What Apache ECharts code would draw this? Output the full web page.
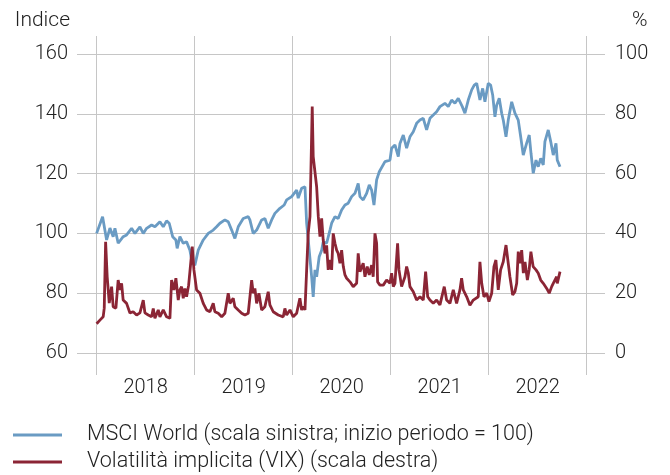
<!DOCTYPE html>
<html><head><meta charset="utf-8">
<script src="https://cdn.jsdelivr.net/npm/echarts@6/dist/echarts.min.js"></script>
<style>html,body{margin:0;padding:0;background:#fff}#c{width:670px;height:475px}</style>
</head><body><div id="c"></div>
<script>
// Time in decimal years
const msciTime = [2018.000,2018.061,2018.102,2018.136,2018.169,2018.187,2018.220,2018.271,2018.306,2018.357,2018.391,2018.442,2018.476,2018.510,2018.561,2018.595,2018.646,2018.680,2018.714,2018.741,2018.776,2018.809,2018.822,2018.850,2018.884,2018.918,2018.952,2018.976,
2019.003,2019.037,2019.088,2019.139,2019.190,2019.224,2019.258,2019.309,2019.343,2019.378,2019.411,2019.445,2019.496,2019.547,2019.564,2019.598,2019.633,2019.649,2019.684,2019.717,2019.751,2019.786,2019.819,2019.870,2019.914,2019.939,2019.990,
2020.041,2020.057,2020.092,2020.108,2020.126,2020.143,2020.169,2020.194,2020.210,2020.228,2020.245,2020.271,2020.296,2020.312,2020.347,2020.381,2020.398,2020.432,2020.465,2020.500,2020.534,2020.567,2020.602,2020.636,2020.669,2020.687,2020.720,2020.755,2020.782,2020.806,2020.830,2020.857,2020.884,2020.942,2020.993,
2021.010,2021.044,2021.078,2021.095,2021.129,2021.163,2021.197,2021.231,2021.265,2021.299,2021.333,2021.367,2021.401,2021.435,2021.469,2021.503,2021.554,2021.588,2021.622,2021.656,2021.690,2021.731,2021.758,2021.792,2021.827,2021.853,2021.878,2021.911,2021.939,2021.962,2021.996,
2022.020,2022.041,2022.064,2022.082,2022.108,2022.133,2022.149,2022.177,2022.200,2022.235,2022.268,2022.302,2022.327,2022.353,2022.387,2022.414,2022.432,2022.455,2022.483,2022.506,2022.531,2022.557,2022.574,2022.608,2022.633,2022.659,2022.687,2022.700,2022.728];
const msciIndex = [100,105.6,97.8,101.8,98.9,101.7,96.7,98.9,99.5,101.7,100,102.2,100,101.7,102.8,102.2,103.9,102.2,104.2,103.4,98.9,97.8,95,98.9,96.7,97.2,94.4,90,
89.4,94.4,97.8,100,101.1,102.2,103.4,104.5,103.9,101.1,98.3,102.2,105,105.6,104.5,100,101.1,102.2,104.5,105,101.7,104.5,106.7,108.4,109.5,111.2,112.3,
114.5,111.8,115.1,115.6,115.6,103.4,94.4,85.5,78.8,87.8,85.5,92.2,94.4,97.2,96.7,101.1,103.4,105.6,105,107.8,109.5,110.1,112.3,113.4,116.7,112.3,111.2,113.4,116.2,114.5,109.5,117.9,120.6,124,124.5,
128.5,129.6,125.7,130.1,132.9,128.5,132.3,134,136.8,137.9,138.5,134.6,138.5,139.6,140.7,142.4,143.5,142.4,144.6,143.5,145.2,142.4,140.2,144.6,148,149.6,150.2,144.6,148.5,144,150.2,
149.6,146.3,139,142.9,145.2,140.2,137.9,132.3,137.9,144,140.2,137.9,132.3,126.2,130.1,132.9,126.8,120.1,124.5,122.3,125.1,122.9,130.7,134.6,130.7,126.2,130.1,124.5,122.3];

const vixTime = [2018.000,2018.034,2018.067,2018.078,2018.092,2018.108,2018.129,2018.153,2018.169,2018.197,2018.220,2018.238,2018.255,2018.271,2018.306,2018.340,2018.373,2018.408,2018.442,2018.476,2018.493,2018.527,2018.561,2018.578,2018.595,2018.629,2018.646,2018.680,2018.714,2018.748,2018.765,2018.789,2018.809,2018.833,2018.850,2018.867,2018.884,2018.901,2018.918,2018.939,2018.952,2018.976,2018.993,
2019.020,2019.054,2019.088,2019.122,2019.156,2019.190,2019.207,2019.241,2019.276,2019.309,2019.343,2019.360,2019.394,2019.411,2019.445,2019.480,2019.513,2019.547,2019.582,2019.598,2019.615,2019.633,2019.656,2019.684,2019.717,2019.751,2019.768,2019.802,2019.853,2019.904,2019.921,2019.939,2019.973,
2020.006,2020.041,2020.074,2020.092,2020.108,2020.126,2020.143,2020.159,2020.177,2020.200,2020.210,2020.228,2020.245,2020.262,2020.279,2020.296,2020.312,2020.330,2020.347,2020.363,2020.381,2020.398,2020.414,2020.432,2020.449,2020.465,2020.483,2020.500,2020.517,2020.534,2020.551,2020.585,2020.618,2020.653,2020.669,2020.687,2020.720,2020.738,2020.761,2020.782,2020.806,2020.822,2020.840,2020.857,2020.867,2020.891,2020.925,2020.959,2020.993,
2021.010,2021.027,2021.044,2021.071,2021.085,2021.112,2021.146,2021.163,2021.180,2021.197,2021.231,2021.265,2021.299,2021.333,2021.357,2021.378,2021.401,2021.435,2021.469,2021.503,2021.547,2021.571,2021.605,2021.639,2021.673,2021.707,2021.724,2021.741,2021.776,2021.809,2021.843,2021.860,2021.894,2021.911,2021.929,2021.952,2021.980,
2022.003,2022.031,2022.054,2022.074,2022.098,2022.122,2022.149,2022.177,2022.200,2022.217,2022.245,2022.268,2022.286,2022.302,2022.320,2022.337,2022.354,2022.371,2022.395,2022.413,2022.431,2022.454,2022.483,2022.506,2022.531,2022.557,2022.592,2022.618,2022.643,2022.659,2022.677,2022.694,2022.700,2022.728];
const vixLevel = [9.8,11,12.1,15,37.2,25.5,16.7,22.2,15.5,15,24.4,21.1,23.3,17.7,16.6,13.4,13.8,12.7,13.4,17.7,13.4,12.7,12.1,14.9,11.6,14.4,12.1,14.4,12.1,11.6,24.4,21.1,25,17.7,21.1,22.2,18.3,21.6,18.8,22.7,23.3,35.6,27.8,
21.1,20,16.6,14.4,13.8,16.6,13.8,13.3,12.1,13.3,20,16.6,18.3,15.5,14.4,13.3,12.7,13.3,24.4,20,21.6,16.6,20,14.4,15.5,20.5,16.1,13.8,12.7,12.1,14.9,12.7,14.4,
12.1,13.3,18.3,14.4,15.5,14.4,27.8,40,45.6,82.4,65.7,65.7,55.6,45.6,38.9,45,37.8,33.3,36,27.8,31.1,27.8,40,36.7,34.4,33.3,30,34.4,28.9,26.1,25,23.8,22.2,23.3,33.3,27.2,30,25.5,28.9,26.1,29.4,25.5,40,36.7,23.8,22.7,22.7,24.4,23.3,
26.7,22.2,23.3,36.7,27.8,22.2,25.5,28.9,26.7,22.2,20.5,17.7,18.8,17.7,27.2,18.8,17.7,16.6,17.7,16.1,22.2,17.7,16.6,21.1,16.6,21.1,25,21.1,18.8,16,17.7,17.7,18.8,30.5,23.3,18.8,20,
17.2,20,28.9,31.1,21.1,27.8,30.5,36.1,30,25.5,19.4,20.5,23.3,33.9,30,34.4,26.7,30.5,24.4,27.8,33.9,28.9,27.8,26.7,24.4,23.3,21.6,20,22.2,23.3,23.3,25.5,23.3,27.2];

const yearBounds = [2018, 2019, 2020, 2021, 2022, 2023];
const yearLabelPos = [2018.5, 2019.5, 2020.5, 2021.5, 2022.5];
const seriesNames = ['MSCI World (scala sinistra; inizio periodo = 100)', 'Volatilità implicita (VIX) (scala destra)'];

const FONT = 'Roboto';
const TXT = '#222222';
const GRID = '#c6c6c6';
const xMin = 2017.8, xMax = 2023.187;

function legendFor(name, top) {
  return {
    orient: 'horizontal', left: 13, top: top, padding: 0, itemWidth: 49, itemHeight: 3,
    icon: 'rect', data: [name], selectedMode: false,
    textStyle: {fontFamily: FONT, fontWeight: 300, fontSize: 21.5, color: TXT, lineHeight: 22, padding: [0, 0, 0, 20]}
  };
}

const chart = echarts.init(document.getElementById('c'), null, {renderer: 'canvas'});
chart.setOption({
  animation: false,
  backgroundColor: '#ffffff',
  textStyle: {fontFamily: FONT, fontWeight: 300, color: TXT},
  grid: {left: 77, right: 65, top: 54, bottom: 122, containLabel: false},
  legend: [legendFor(seriesNames[0], 424), legendFor(seriesNames[1], 451)],
  xAxis: [
    {type: 'value', min: xMin, max: xMax, position: 'bottom',
      axisLine: {show: false}, axisTick: {show: false}, splitLine: {show: false},
      axisLabel: {customValues: yearLabelPos, formatter: v => String(Math.floor(v)), margin: 25,
        fontFamily: FONT, fontWeight: 300, fontSize: 20, color: TXT}},
    {type: 'value', min: xMin, max: xMax, position: 'top', offset: 18,
      axisLine: {show: false}, axisLabel: {show: false}, splitLine: {show: false},
      axisTick: {show: true, customValues: yearBounds, inside: true, length: 339, lineStyle: {color: GRID, width: 1}}}
  ],
  yAxis: [
    {type: 'value', min: 60, max: 160, interval: 20, position: 'left',
      name: 'Indice', nameLocation: 'end', nameGap: 23,
      nameTextStyle: {fontFamily: FONT, fontWeight: 300, fontSize: 21, color: TXT, align: 'right', padding: [0, 7, 0, 0]},
      axisLine: {show: false}, axisTick: {show: false},
      axisLabel: {margin: 9, fontFamily: FONT, fontWeight: 300, fontSize: 20, color: TXT},
      splitLine: {show: true, lineStyle: {color: GRID, width: 1}}},
    {type: 'value', min: 0, max: 100, interval: 20, position: 'right',
      name: '%', nameLocation: 'end', nameGap: 23,
      nameTextStyle: {fontFamily: FONT, fontWeight: 300, fontSize: 21, color: TXT, align: 'left', padding: [0, 0, 0, 27]},
      axisLine: {show: false}, axisTick: {show: false},
      axisLabel: {margin: 10, fontFamily: FONT, fontWeight: 300, fontSize: 20, color: TXT},
      splitLine: {show: false}}
  ],
  series: [
    {name: seriesNames[0], type: 'line', xAxisIndex: 0, yAxisIndex: 0, showSymbol: false, symbol: 'none',
      data: msciTime.map((t, i) => [t, msciIndex[i]]),
      lineStyle: {color: '#6a9bc3', width: 2.8}, itemStyle: {color: '#6a9bc3'}},
    {name: seriesNames[1], type: 'line', xAxisIndex: 0, yAxisIndex: 1, showSymbol: false, symbol: 'none',
      data: vixTime.map((t, i) => [t, vixLevel[i]]),
      lineStyle: {color: '#8b2535', width: 2.8}, itemStyle: {color: '#8b2535'}}
  ]
});
</script></body></html>
